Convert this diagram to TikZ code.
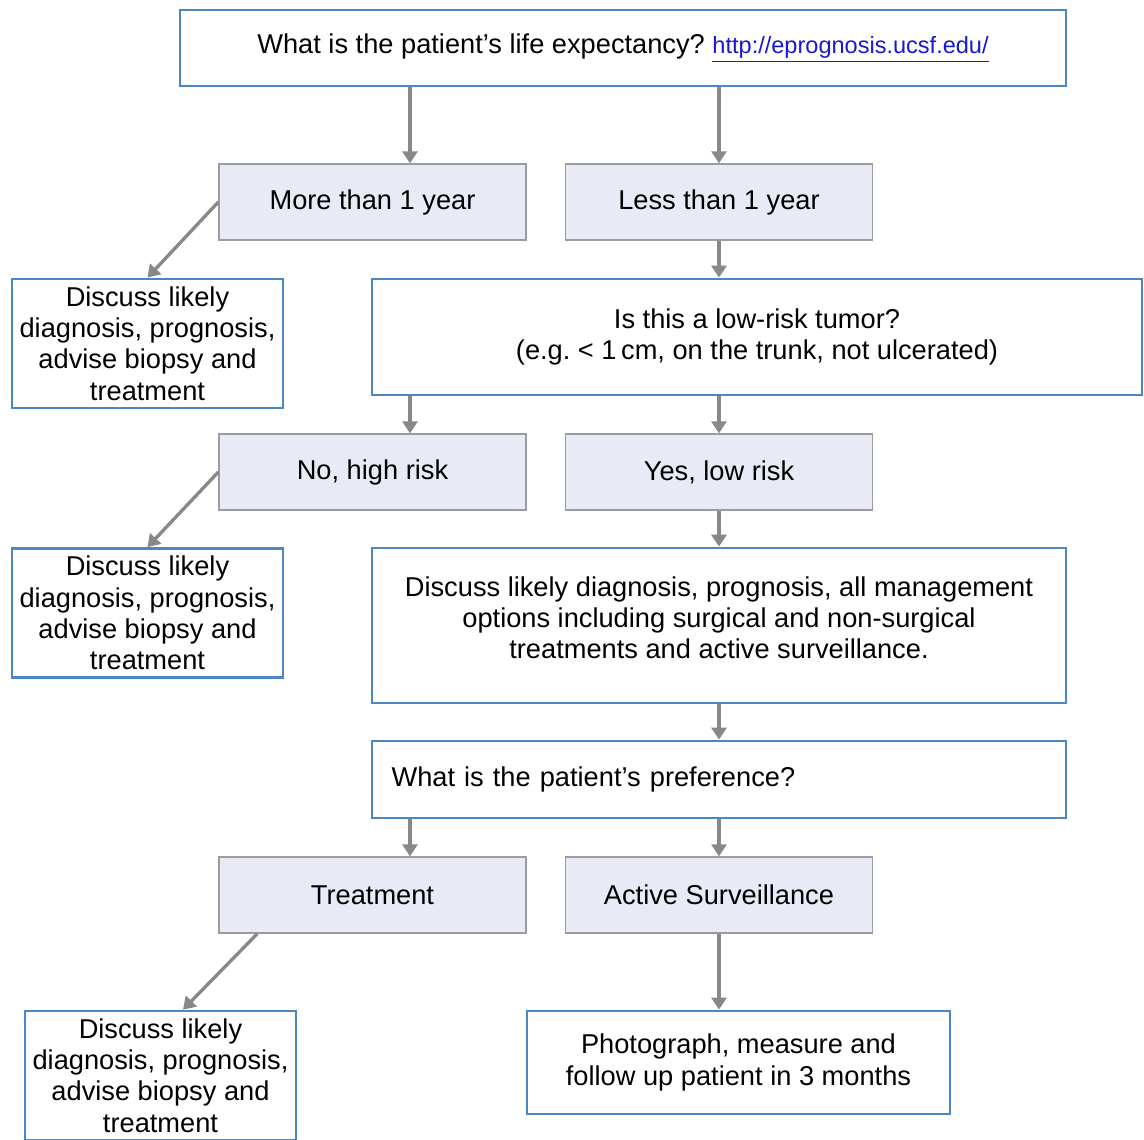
\documentclass[tikz,border=0pt]{standalone}
\usepackage{fontspec}
\setmainfont{Liberation Sans}
\usepackage{tikz}
\usepackage{xcolor}
\usetikzlibrary{arrows.meta}
\definecolor{boxblue}{RGB}{74,134,200}
\definecolor{boxfill}{RGB}{232,234,245}
\definecolor{boxgray}{RGB}{155,155,160}
\definecolor{arrowgray}{RGB}{136,136,136}
\definecolor{linkblue}{RGB}{25,25,210}
\frenchspacing
\begin{document}
\begin{tikzpicture}%
  [x=0.02cm,y=-0.02cm,font=\fontsize{15.5}{17.8}\selectfont,
   arr/.style={-{Triangle[length=2.4mm,width=3mm]},draw=arrowgray,line width=1.9pt}]
  \tikzstyle{blue node}=[rectangle,draw=boxblue,line width=1.6pt,fill=white,align=center,inner sep=2]
  \tikzstyle{gray node}=[rectangle,draw=boxgray,line width=0.8pt,fill=boxfill,minimum width=6.14cm,minimum height=1.52cm]
  \tikzstyle{side node}=[blue node,minimum width=5.42cm,minimum height=2.58cm]
  \useasboundingbox (0,0) rectangle (1144,1140);
  \node(life)[blue node,minimum width=17.72cm,minimum height=1.52cm] at (623,48)
    {What is the patient’s life expectancy? \textcolor{linkblue}{\fontsize{13.4}{16}\selectfont\underline{http://eprognosis.ucsf.edu/}}};
  \node(more)[gray node] at (372.5,202) {More than 1 year};
  \node(less)[gray node] at (719,202) {Less than 1 year};
  \node(side1)[side node] at (147.5,343.5) {Discuss likely\\diagnosis, prognosis,\\advise biopsy and\\treatment};
  \node(risk)[blue node,minimum width=15.4cm,minimum height=2.32cm] at (757,337)
    {Is this a low-risk tumor?\\(e.g. < 1\,cm, on the trunk, not ulcerated)};
  \node(no)[gray node] at (372.5,472) {No, high risk};
  \node(yes)[gray node] at (719,472) {Yes, low risk};
  \node(side2)[side node] at (147.5,613) {Discuss likely\\diagnosis, prognosis,\\advise biopsy and\\treatment};
  \node(opts)[blue node,minimum width=13.88cm,minimum height=3.1cm] at (719,625.5)
    {Discuss likely diagnosis, prognosis, all management\\options including surgical and non-surgical\\treatments and active surveillance.\\[-0.31cm]};
  \node(pref)[blue node,minimum width=13.88cm,minimum height=1.54cm,text width=13.1cm,align=left] at (719,779.5)
    {What is the patient’s preference?};
  \node(treat)[gray node] at (372.5,895) {Treatment};
  \node(active)[gray node] at (719,895) {Active Surveillance};
  \node(side3)[side node] at (160.5,1075.5) {Discuss likely\\diagnosis, prognosis,\\advise biopsy and\\treatment};
  \node(photo)[blue node,minimum width=8.46cm,minimum height=2.06cm] at (738.5,1062.5)
    {Photograph, measure and\\follow up patient in 3 months};
  \draw[arr] ([xshift=0.75cm]more.north |- life.south) -- ([xshift=0.75cm]more.north);
  \draw[arr] (less.north |- life.south) -- (less.north);
  \draw[arr] (more.west) -- (side1.north);
  \draw[arr] (less.south) -- (less.south |- risk.north);
  \draw[arr] ([xshift=0.75cm]no.north |- risk.south) -- ([xshift=0.75cm]no.north);
  \draw[arr] (yes.north |- risk.south) -- (yes.north);
  \draw[arr] (no.west) -- (side2.north);
  \draw[arr] (yes.south) -- (yes.south |- opts.north);
  \draw[arr] (opts.south) -- (opts.south |- pref.north);
  \draw[arr] ([xshift=0.75cm]treat.north |- pref.south) -- ([xshift=0.75cm]treat.north);
  \draw[arr] (active.north |- pref.south) -- (active.north);
  \draw[arr] ([xshift=0.78cm]treat.south west) -- ([xshift=0.45cm]side3.north);
  \draw[arr] (active.south) -- (active.south |- photo.north);
\end{tikzpicture}
\end{document}
